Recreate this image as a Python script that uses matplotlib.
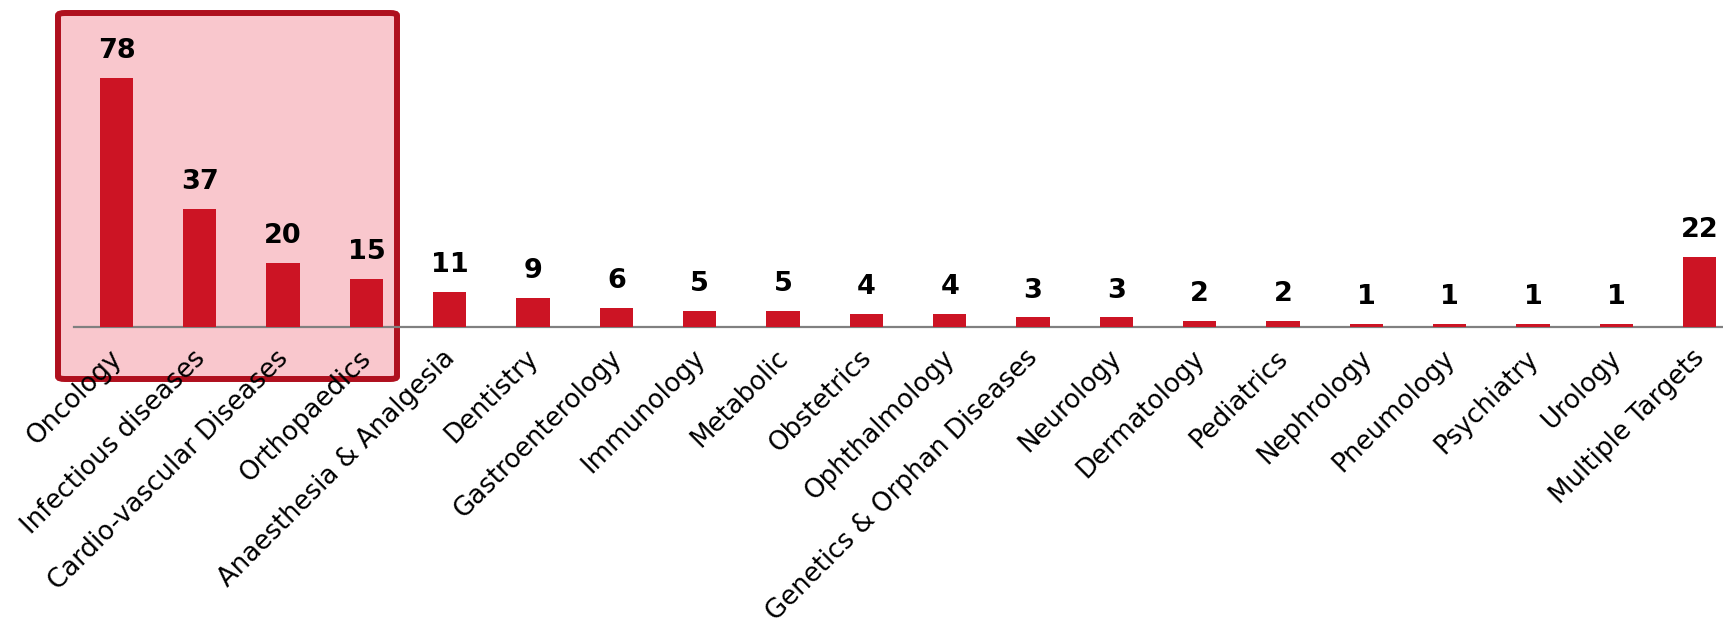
import matplotlib.pyplot as plt
import matplotlib.transforms as mtransforms
from matplotlib.patches import FancyBboxPatch

areas = ['Oncology', 'Infectious diseases', 'Cardio-vascular Diseases', 'Orthopaedics',
         'Anaesthesia & Analgesia', 'Dentistry', 'Gastroenterology', 'Immunology',
         'Metabolic', 'Obstetrics', 'Ophthalmology', 'Genetics & Orphan Diseases',
         'Neurology', 'Dermatology', 'Pediatrics', 'Nephrology', 'Pneumology',
         'Psychiatry', 'Urology', 'Multiple Targets']
counts = [78, 37, 20, 15, 11, 9, 6, 5, 5, 4, 4, 3, 3, 2, 2, 1, 1, 1, 1, 22]

bar_color = '#CC1424'
plt.rcParams['font.family'] = ['DejaVu Sans']

W, H = 1723, 627
fig = plt.figure(figsize=(W / 100, H / 100), dpi=100)

# axes bottom edge is the baseline; top at the figure edge
ax = fig.add_axes([74 / W, 1 - 327 / H, 1 - 74 / W, 327 / H])
ax.set_facecolor('none')
ax.set_zorder(2)

x = list(range(len(areas)))
ax.bar(x, counts, width=0.4, color=bar_color, zorder=3)
for xi, v in zip(x, counts):
    ax.annotate(str(v), (xi, v), xytext=(0, 10), textcoords='offset points',
                ha='center', va='bottom', fontsize=19.5, fontweight='bold')

ax.set_xlim(-0.51, 19.28)
ax.set_ylim(0, 327 / 3.19)

for s in ['top', 'right', 'left']:
    ax.spines[s].set_visible(False)
ax.spines['bottom'].set_color('#808080')
ax.spines['bottom'].set_linewidth(1.6)
ax.set_yticks([])
ax.set_xticks(x)
ax.set_xticklabels(areas, rotation=45, ha='right', rotation_mode='anchor', fontsize=18.7)
ax.tick_params(axis='x', length=0, pad=13)
shift = mtransforms.ScaledTranslation(-8 / 100, 0, fig.dpi_scale_trans)
for lbl in ax.get_xticklabels():
    lbl.set_transform(lbl.get_transform() + shift)

# highlight box around the top four areas
box = FancyBboxPatch((58 / W, 1 - 379 / H), 339 / W, 366 / H,
                     boxstyle='round,pad=0,rounding_size=0.004',
                     transform=fig.transFigure, facecolor='#F9C7CD',
                     edgecolor='#AF101E', linewidth=4.3, zorder=0)
fig.patches.append(box)

fig.savefig('out.png', dpi=100)
